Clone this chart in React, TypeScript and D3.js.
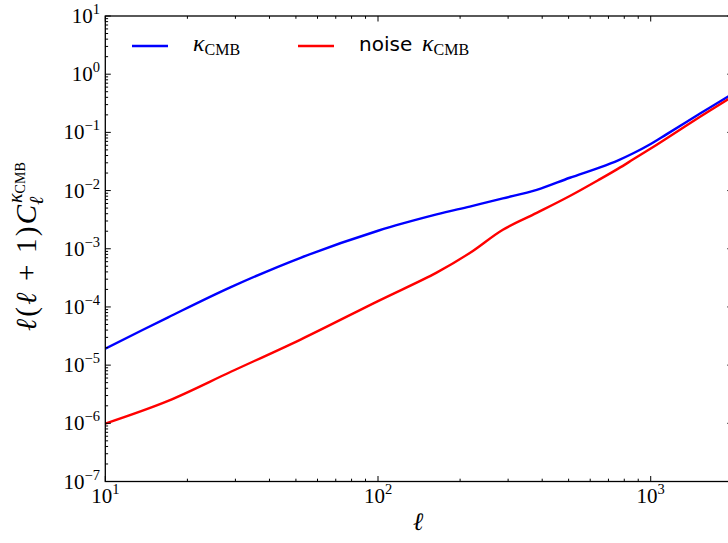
import React from 'react';
import * as d3 from 'd3';

// multipole ell values
const ells = [10, 17, 29, 52, 100, 164, 217, 287, 382, 505, 652, 760, 863, 1000, 1146, 1517, 1923, 2000];
// kappa_CMB power  l(l+1)C_l
const kappaCMB = [1.92e-5, 6.62e-5, 2.21e-4, 7.0e-4, 2.04e-3, 3.89e-3, 5.31e-3, 7.33e-3, 1.03e-2, 1.66e-2, 2.51e-2, 3.31e-2, 4.37e-2, 6.31e-2, 9.33e-2, 0.211, 0.412, 0.46];
// noise kappa_CMB
const noiseKappaCMB = [9.9e-7, 2.43e-6, 7.76e-6, 2.75e-5, 1.26e-4, 3.89e-4, 8.43e-4, 2.12e-3, 4.13e-3, 8.05e-3, 1.57e-2, 2.38e-2, 3.44e-2, 5.28e-2, 7.94e-2, 0.185, 0.372, 0.416];

const xTickExps = [1, 2, 3];
const yTickExps = [1, 0, -1, -2, -3, -4, -5, -6, -7];

const W = 728;
const H = 543;
const M = { left: 105.3, top: 16, right: 732.8, bottom: 481.5 };

const SERIF = '"Liberation Serif", "DejaVu Serif", serif';
const SANS = '"DejaVu Sans", sans-serif';

function sup(e: number) {
  return e < 0 ? '\u2212' + Math.abs(e) : String(e);
}

export default function App() {
  const x = d3.scaleLog().domain([10, 2000]).range([M.left, M.right]);
  const y = d3.scaleLog().domain([1e-7, 1e1]).range([M.bottom, M.top]);

  const line = d3
    .line<[number, number]>()
    .x((d) => x(d[0]))
    .y((d) => y(d[1]))
    .curve(d3.curveCatmullRom.alpha(0.5));

  const blueD = line(ells.map((l, i) => [l, kappaCMB[i]] as [number, number])) || '';
  const redD = line(ells.map((l, i) => [l, noiseKappaCMB[i]] as [number, number])) || '';

  // minor ticks
  const xMinor: number[] = [];
  for (let d = 10; d < 2000; d *= 10) {
    for (let k = 2; k <= 9; k++) {
      const v = d * k;
      if (v <= 2000) xMinor.push(v);
    }
  }
  const yMinor: number[] = [];
  for (let e = -7; e < 1; e++) {
    for (let k = 2; k <= 9; k++) yMinor.push(k * Math.pow(10, e));
  }

  const MAJ = 5.5;
  const MIN = 2.8;
  const tickColor = '#000';

  return (
    <svg
      width={W}
      height={H}
      style={{ position: 'absolute', left: 0, top: 0, background: '#fff' }}
      xmlns="http://www.w3.org/2000/svg"
    >
      <rect x={0} y={0} width={W} height={H} fill="#fff" />
      <defs>
        <clipPath id="plotclip">
          <rect x={M.left} y={M.top} width={M.right - M.left} height={M.bottom - M.top} />
        </clipPath>
      </defs>

      {/* lines */}
      <g clipPath="url(#plotclip)">
        <path d={blueD} fill="none" stroke="#0000ff" strokeWidth={2.4} />
        <path d={redD} fill="none" stroke="#ff0000" strokeWidth={2.4} />
      </g>

      {/* ticks */}
      <g stroke={tickColor} strokeWidth={1}>
        {xTickExps.map((e) => {
          const px = x(Math.pow(10, e));
          return (
            <g key={'xt' + e}>
              <line x1={px} x2={px} y1={M.bottom} y2={M.bottom - MAJ} />
              <line x1={px} x2={px} y1={M.top} y2={M.top + MAJ} />
            </g>
          );
        })}
        {xMinor.map((v) => {
          const px = x(v);
          return (
            <g key={'xm' + v}>
              <line x1={px} x2={px} y1={M.bottom} y2={M.bottom - MIN} />
              <line x1={px} x2={px} y1={M.top} y2={M.top + MIN} />
            </g>
          );
        })}
        {yTickExps.map((e) => {
          const py = y(Math.pow(10, e));
          return (
            <g key={'yt' + e}>
              <line x1={M.left} x2={M.left + MAJ} y1={py} y2={py} />
              <line x1={M.right} x2={M.right - MAJ} y1={py} y2={py} />
            </g>
          );
        })}
        {yMinor.map((v, i) => {
          const py = y(v);
          return (
            <g key={'ym' + i}>
              <line x1={M.left} x2={M.left + MIN} y1={py} y2={py} />
              <line x1={M.right} x2={M.right - MIN} y1={py} y2={py} />
            </g>
          );
        })}
      </g>

      {/* frame */}
      <rect
        x={M.left}
        y={M.top}
        width={M.right - M.left}
        height={M.bottom - M.top}
        fill="none"
        stroke="#000"
        strokeWidth={1.3}
      />

      {/* x tick labels */}
      {xTickExps.map((e) => (
        <text
          key={'xl' + e}
          x={x(Math.pow(10, e))}
          y={M.bottom + 21.5}
          textAnchor="middle"
          fontFamily={SERIF}
          fontSize={21}
          fill="#000"
        >
          10
          <tspan fontSize={14.5} dy={-9}>
            {sup(e)}
          </tspan>
        </text>
      ))}

      {/* y tick labels */}
      {yTickExps.map((e) => (
        <text
          key={'yl' + e}
          x={100}
          y={y(Math.pow(10, e)) + 7}
          textAnchor="end"
          fontFamily={SERIF}
          fontSize={21}
          fill="#000"
        >
          10
          <tspan fontSize={14.5} dy={-9}>
            {sup(e)}
          </tspan>
        </text>
      ))}

      {/* x axis label */}
      <text x={418} y={530} textAnchor="middle" fontFamily={SERIF} fontStyle="italic" fontSize={25} fill="#000">
        ℓ
      </text>

      {/* y axis label */}
      <g transform="translate(36,331) rotate(-90)" fontFamily={SERIF} fill="#000">
        <text x={0} y={0} fontSize={29} textLength={126} lengthAdjust="spacing">
          <tspan fontStyle="italic">ℓ</tspan>
          <tspan>(</tspan>
          <tspan fontStyle="italic">ℓ</tspan>
          <tspan> + 1)</tspan>
          <tspan fontStyle="italic">C</tspan>
        </text>
        <text x={126} y={7} fontSize={20} fontStyle="italic">
          ℓ
        </text>
        <text x={128} y={-14} fontSize={20}>
          <tspan fontStyle="italic">κ</tspan>
          <tspan fontSize={14} dy={3}>
            CMB
          </tspan>
        </text>
      </g>

      {/* legend */}
      <line x1={132} x2={168} y1={46} y2={46} stroke="#0000ff" strokeWidth={2.4} />
      <text x={193} y={51} fontFamily={SERIF} fontSize={24} fill="#000">
        <tspan fontStyle="italic">κ</tspan>
        <tspan fontSize={16} dy={4}>
          CMB
        </tspan>
      </text>
      <line x1={298} x2={334} y1={46} y2={46} stroke="#ff0000" strokeWidth={2.4} />
      <text x={359} y={51} fontFamily={SANS} fontSize={20} fill="#000">
        noise
      </text>
      <text x={422} y={51} fontFamily={SERIF} fontSize={24} fill="#000">
        <tspan fontStyle="italic">κ</tspan>
        <tspan fontSize={16} dy={4}>
          CMB
        </tspan>
      </text>
    </svg>
  );
}
